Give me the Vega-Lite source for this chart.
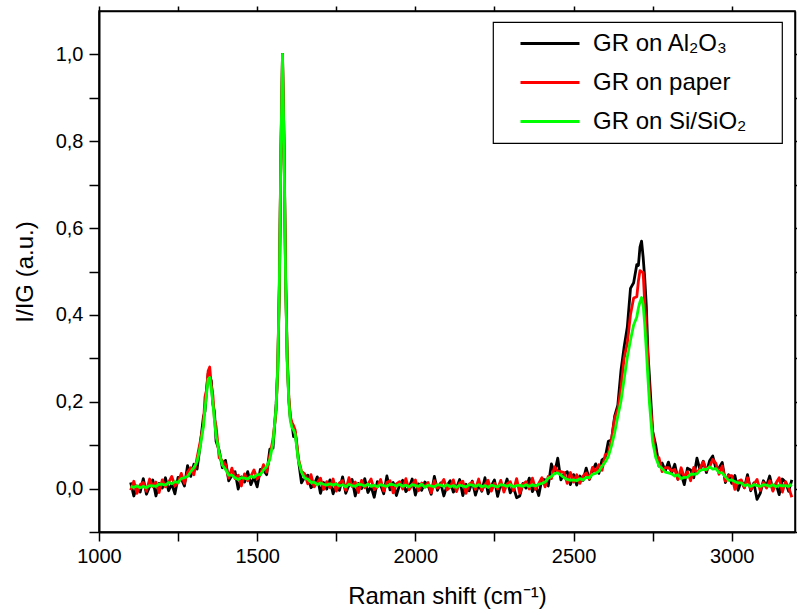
{
"$schema": "https://vega.github.io/schema/vega-lite/v6.json",
"width": 696, "height": 521,
"autosize": {"type": "none"},
"padding": {"left": 99, "top": 11, "right": 2, "bottom": 83},
"background": "white",
"config": {
 "view": {"stroke": "black", "strokeWidth": 1.5},
 "font": "Liberation Sans",
 "axis": {"grid": false, "domainColor": "black", "domainWidth": 2, "tickColor": "black", "tickWidth": 1.5, "labelColor": "black", "titleColor": "black", "labelFont": "Liberation Sans", "titleFont": "Liberation Sans", "labelFontSize": 20, "titleFontSize": 24, "titleFontWeight": "normal"},
 "legend": {"strokeWidth": 1.2}
},
"layer": [
{
"data": {"values": [
{"x":1100,"a":0.014,"p":-0.004,"s":0.005},
{"x":1110,"a":-0.017,"p":0.017,"s":0.003},
{"x":1120,"a":0.006,"p":-0.011,"s":0.006},
{"x":1130,"a":-0.008,"p":0.009,"s":0.002},
{"x":1140,"a":0.023,"p":0.014,"s":0.005},
{"x":1150,"a":-0.013,"p":-0.006,"s":0.002},
{"x":1160,"a":0.005,"p":0.022,"s":0.007},
{"x":1170,"a":0.02,"p":0.004,"s":0.006},
{"x":1180,"a":-0.017,"p":0.015,"s":0.005},
{"x":1190,"a":0.012,"p":-0.009,"s":0.01},
{"x":1200,"a":0.001,"p":0.02,"s":0.01},
{"x":1210,"a":0.025,"p":0.004,"s":0.008},
{"x":1220,"a":-0.005,"p":0.014,"s":0.014},
{"x":1230,"a":0.011,"p":0.028,"s":0.011},
{"x":1240,"a":-0.012,"p":0.006,"s":0.016},
{"x":1250,"a":0.026,"p":0.014,"s":0.014},
{"x":1260,"a":0.023,"p":0.035,"s":0.023},
{"x":1270,"a":0.006,"p":0.012,"s":0.025},
{"x":1280,"a":0.053,"p":0.038,"s":0.028},
{"x":1290,"a":0.028,"p":0.048,"s":0.039},
{"x":1300,"a":0.056,"p":0.032,"s":0.048},
{"x":1310,"a":0.045,"p":0.071,"s":0.062},
{"x":1320,"a":0.101,"p":0.108,"s":0.096},
{"x":1330,"a":0.165,"p":0.147,"s":0.143},
{"x":1335,"a":0.178,"p":0.211,"s":0.183},
{"x":1340,"a":0.228,"p":0.227,"s":0.218},
{"x":1345,"a":0.265,"p":0.271,"s":0.252},
{"x":1350,"a":0.256,"p":0.28,"s":0.256},
{"x":1355,"a":0.248,"p":0.237,"s":0.23},
{"x":1360,"a":0.194,"p":0.215,"s":0.196},
{"x":1365,"a":0.175,"p":0.16,"s":0.157},
{"x":1370,"a":0.109,"p":0.144,"s":0.121},
{"x":1380,"a":0.088,"p":0.071,"s":0.083},
{"x":1390,"a":0.048,"p":0.064,"s":0.054},
{"x":1400,"a":0.065,"p":0.055,"s":0.044},
{"x":1410,"a":0.018,"p":0.024,"s":0.031},
{"x":1420,"a":0.03,"p":0.047,"s":0.031},
{"x":1430,"a":0.039,"p":0.023,"s":0.025},
{"x":1440,"a":-0.001,"p":0.031,"s":0.021},
{"x":1450,"a":0.027,"p":0.006,"s":0.025},
{"x":1460,"a":0.015,"p":0.034,"s":0.024},
{"x":1470,"a":0.039,"p":0.018,"s":0.022},
{"x":1480,"a":0.009,"p":0.028,"s":0.028},
{"x":1490,"a":0.026,"p":0.043,"s":0.026},
{"x":1500,"a":0.004,"p":0.022,"s":0.032},
{"x":1510,"a":0.044,"p":0.032,"s":0.032},
{"x":1520,"a":0.043,"p":0.055,"s":0.043},
{"x":1530,"a":0.032,"p":0.038,"s":0.051},
{"x":1540,"a":0.091,"p":0.076,"s":0.067},
{"x":1550,"a":0.093,"p":0.114,"s":0.105},
{"x":1560,"a":0.195,"p":0.18,"s":0.189},
{"x":1565,"a":0.275,"p":0.285,"s":0.28},
{"x":1570,"a":0.46,"p":0.47,"s":0.465},
{"x":1575,"a":0.77,"p":0.78,"s":0.775},
{"x":1580,"a":1.0,"p":1.0,"s":1.0},
{"x":1585,"a":0.79,"p":0.785,"s":0.78},
{"x":1590,"a":0.48,"p":0.475,"s":0.47},
{"x":1595,"a":0.3,"p":0.295,"s":0.29},
{"x":1600,"a":0.205,"p":0.21,"s":0.2},
{"x":1605,"a":0.16,"p":0.165,"s":0.155},
{"x":1610,"a":0.148,"p":0.152,"s":0.14},
{"x":1615,"a":0.12,"p":0.145,"s":0.135},
{"x":1620,"a":0.13,"p":0.135,"s":0.125},
{"x":1625,"a":0.1,"p":0.105,"s":0.095},
{"x":1630,"a":0.068,"p":0.07,"s":0.065},
{"x":1640,"a":0.013,"p":0.04,"s":0.038},
{"x":1650,"a":0.026,"p":0.034,"s":0.024},
{"x":1660,"a":0.031,"p":0.011,"s":0.022},
{"x":1670,"a":0.002,"p":0.032,"s":0.014},
{"x":1680,"a":0.009,"p":0.004,"s":0.015},
{"x":1690,"a":0.027,"p":0.014,"s":0.009},
{"x":1700,"a":-0.011,"p":0.024,"s":0.013},
{"x":1710,"a":0.014,"p":-0.002,"s":0.01},
{"x":1720,"a":-0.001,"p":0.016,"s":0.008},
{"x":1730,"a":0.02,"p":0.002,"s":0.011},
{"x":1740,"a":-0.012,"p":0.022,"s":0.008},
{"x":1750,"a":0.011,"p":-0.006,"s":0.011},
{"x":1760,"a":-0.004,"p":0.013,"s":0.006},
{"x":1770,"a":0.027,"p":0.018,"s":0.009},
{"x":1780,"a":-0.011,"p":-0.004,"s":0.004},
{"x":1790,"a":0.008,"p":0.025,"s":0.01},
{"x":1800,"a":0.021,"p":0.005,"s":0.007},
{"x":1810,"a":-0.017,"p":0.015,"s":0.005},
{"x":1820,"a":0.012,"p":-0.009,"s":0.01},
{"x":1830,"a":0.0,"p":0.019,"s":0.009},
{"x":1840,"a":0.023,"p":0.002,"s":0.006},
{"x":1850,"a":-0.009,"p":0.01,"s":0.01},
{"x":1860,"a":0.005,"p":0.022,"s":0.005},
{"x":1870,"a":-0.02,"p":-0.002,"s":0.008},
{"x":1880,"a":0.016,"p":0.004,"s":0.004},
{"x":1890,"a":0.009,"p":0.021,"s":0.009},
{"x":1900,"a":-0.012,"p":-0.006,"s":0.007},
{"x":1910,"a":0.029,"p":0.014,"s":0.005},
{"x":1920,"a":-0.003,"p":0.018,"s":0.01},
{"x":1930,"a":0.014,"p":-0.01,"s":0.009},
{"x":1940,"a":-0.016,"p":0.011,"s":0.006},
{"x":1950,"a":0.008,"p":0.016,"s":0.01},
{"x":1960,"a":0.019,"p":-0.001,"s":0.005},
{"x":1970,"a":-0.007,"p":0.023,"s":0.008},
{"x":1980,"a":0.002,"p":-0.003,"s":0.004},
{"x":1990,"a":0.022,"p":0.009,"s":0.009},
{"x":2000,"a":-0.015,"p":0.02,"s":0.007},
{"x":2010,"a":0.011,"p":-0.005,"s":0.005},
{"x":2020,"a":-0.004,"p":0.013,"s":0.01},
{"x":2030,"a":0.015,"p":0.004,"s":0.003},
{"x":2040,"a":0.008,"p":0.014,"s":0.008},
{"x":2050,"a":-0.013,"p":-0.01,"s":0.006},
{"x":2060,"a":0.028,"p":0.018,"s":0.004},
{"x":2070,"a":-0.004,"p":0.001,"s":0.009},
{"x":2080,"a":0.013,"p":0.009,"s":0.008},
{"x":2090,"a":-0.017,"p":0.021,"s":0.005},
{"x":2100,"a":0.007,"p":-0.003,"s":0.009},
{"x":2110,"a":0.018,"p":0.003,"s":0.004},
{"x":2120,"a":-0.008,"p":0.02,"s":0.007},
{"x":2130,"a":0.001,"p":-0.007,"s":0.003},
{"x":2140,"a":0.021,"p":0.013,"s":0.008},
{"x":2150,"a":-0.016,"p":0.017,"s":0.006},
{"x":2160,"a":0.01,"p":-0.011,"s":0.004},
{"x":2170,"a":-0.005,"p":0.01,"s":0.009},
{"x":2180,"a":0.017,"p":0.015,"s":0.008},
{"x":2190,"a":-0.015,"p":-0.002,"s":0.005},
{"x":2200,"a":0.009,"p":0.022,"s":0.009},
{"x":2210,"a":-0.006,"p":-0.004,"s":0.004},
{"x":2220,"a":0.025,"p":0.008,"s":0.007},
{"x":2230,"a":-0.012,"p":0.019,"s":0.003},
{"x":2240,"a":0.006,"p":-0.006,"s":0.008},
{"x":2250,"a":0.02,"p":0.012,"s":0.006},
{"x":2260,"a":-0.018,"p":-0.001,"s":0.004},
{"x":2270,"a":0.011,"p":0.019,"s":0.009},
{"x":2280,"a":-0.001,"p":-0.008,"s":0.008},
{"x":2290,"a":0.022,"p":0.011,"s":0.005},
{"x":2300,"a":-0.01,"p":0.016,"s":0.009},
{"x":2310,"a":0.004,"p":-0.005,"s":0.004},
{"x":2320,"a":-0.021,"p":0.023,"s":0.007},
{"x":2330,"a":-0.017,"p":-0.011,"s":0.008},
{"x":2340,"a":0.012,"p":0.01,"s":0.005},
{"x":2350,"a":0.001,"p":0.016,"s":0.009},
{"x":2360,"a":0.024,"p":-0.001,"s":0.005},
{"x":2370,"a":-0.007,"p":0.024,"s":0.009},
{"x":2380,"a":0.007,"p":-0.002,"s":0.006},
{"x":2390,"a":-0.016,"p":0.012,"s":0.01},
{"x":2400,"a":0.022,"p":0.025,"s":0.012},
{"x":2410,"a":0.02,"p":0.004,"s":0.015},
{"x":2420,"a":0.006,"p":0.028,"s":0.024},
{"x":2430,"a":0.057,"p":0.023,"s":0.028},
{"x":2440,"a":0.035,"p":0.05,"s":0.035},
{"x":2450,"a":0.07,"p":0.04,"s":0.036},
{"x":2460,"a":0.02,"p":0.039,"s":0.031},
{"x":2470,"a":0.034,"p":0.037,"s":0.025},
{"x":2480,"a":0.039,"p":0.012,"s":0.021},
{"x":2490,"a":0.009,"p":0.037,"s":0.019},
{"x":2500,"a":0.032,"p":0.015,"s":0.02},
{"x":2510,"a":0.008,"p":0.032,"s":0.018},
{"x":2520,"a":0.029,"p":0.012,"s":0.023},
{"x":2530,"a":0.019,"p":0.029,"s":0.02},
{"x":2540,"a":0.047,"p":0.036,"s":0.026},
{"x":2550,"a":0.021,"p":0.022,"s":0.025},
{"x":2560,"a":0.04,"p":0.049,"s":0.033},
{"x":2570,"a":0.057,"p":0.039,"s":0.035},
{"x":2580,"a":0.035,"p":0.055,"s":0.04},
{"x":2590,"a":0.066,"p":0.042,"s":0.052},
{"x":2600,"a":0.071,"p":0.078,"s":0.061},
{"x":2610,"a":0.109,"p":0.081,"s":0.074},
{"x":2620,"a":0.112,"p":0.113,"s":0.099},
{"x":2630,"a":0.167,"p":0.162,"s":0.129},
{"x":2640,"a":0.192,"p":0.183,"s":0.167},
{"x":2650,"a":0.272,"p":0.233,"s":0.202},
{"x":2660,"a":0.327,"p":0.301,"s":0.253},
{"x":2670,"a":0.372,"p":0.335,"s":0.303},
{"x":2680,"a":0.461,"p":0.401,"s":0.342},
{"x":2690,"a":0.474,"p":0.439,"s":0.377},
{"x":2700,"a":0.516,"p":0.442,"s":0.395},
{"x":2705,"a":0.514,"p":0.478,"s":0.416},
{"x":2710,"a":0.556,"p":0.502,"s":0.43},
{"x":2715,"a":0.57,"p":0.499,"s":0.44},
{"x":2720,"a":0.533,"p":0.498,"s":0.424},
{"x":2725,"a":0.484,"p":0.427,"s":0.378},
{"x":2730,"a":0.421,"p":0.367,"s":0.319},
{"x":2735,"a":0.314,"p":0.306,"s":0.256},
{"x":2740,"a":0.256,"p":0.216,"s":0.197},
{"x":2750,"a":0.132,"p":0.13,"s":0.108},
{"x":2760,"a":0.099,"p":0.075,"s":0.071},
{"x":2770,"a":0.052,"p":0.071,"s":0.052},
{"x":2780,"a":0.059,"p":0.039,"s":0.046},
{"x":2790,"a":0.041,"p":0.048,"s":0.038},
{"x":2800,"a":0.061,"p":0.048,"s":0.036},
{"x":2810,"a":0.036,"p":0.041,"s":0.034},
{"x":2820,"a":0.056,"p":0.044,"s":0.029},
{"x":2830,"a":0.022,"p":0.021,"s":0.032},
{"x":2840,"a":0.034,"p":0.048,"s":0.023},
{"x":2850,"a":0.009,"p":0.026,"s":0.026},
{"x":2860,"a":0.047,"p":0.039,"s":0.026},
{"x":2870,"a":0.043,"p":0.018,"s":0.033},
{"x":2880,"a":0.025,"p":0.049,"s":0.033},
{"x":2890,"a":0.07,"p":0.035,"s":0.034},
{"x":2900,"a":0.042,"p":0.047,"s":0.042},
{"x":2910,"a":0.063,"p":0.062,"s":0.044},
{"x":2920,"a":0.037,"p":0.042,"s":0.044},
{"x":2930,"a":0.064,"p":0.05,"s":0.05},
{"x":2940,"a":0.075,"p":0.067,"s":0.045},
{"x":2950,"a":0.046,"p":0.058,"s":0.046},
{"x":2960,"a":0.048,"p":0.033,"s":0.037},
{"x":2970,"a":0.06,"p":0.052,"s":0.036},
{"x":2980,"a":0.014,"p":0.017,"s":0.027},
{"x":2990,"a":0.032,"p":0.03,"s":0.019},
{"x":3000,"a":0.012,"p":0.03,"s":0.02},
{"x":3010,"a":0.03,"p":-0.002,"s":0.016},
{"x":3020,"a":-0.004,"p":0.017,"s":0.013},
{"x":3030,"a":0.018,"p":0.02,"s":0.013},
{"x":3040,"a":0.002,"p":0.002,"s":0.007},
{"x":3050,"a":0.032,"p":0.025,"s":0.009},
{"x":3060,"a":-0.005,"p":-0.002,"s":0.005},
{"x":3070,"a":0.013,"p":0.01,"s":0.009},
{"x":3080,"a":-0.025,"p":0.021,"s":0.007},
{"x":3090,"a":-0.011,"p":-0.004,"s":0.005},
{"x":3100,"a":0.018,"p":0.014,"s":0.009},
{"x":3110,"a":0.006,"p":0.001,"s":0.008},
{"x":3120,"a":0.029,"p":0.018,"s":0.005},
{"x":3130,"a":-0.003,"p":-0.006,"s":0.009},
{"x":3140,"a":0.011,"p":0.013,"s":0.004},
{"x":3150,"a":-0.014,"p":0.025,"s":0.008},
{"x":3160,"a":0.022,"p":-0.008,"s":0.006},
{"x":3170,"a":0.015,"p":0.016,"s":0.007},
{"x":3180,"a":-0.006,"p":0.002,"s":0.005},
{"x":3190,"a":0.02,"p":-0.02,"s":0.01}
]},
"transform": [{"fold": ["a", "p", "s"], "as": ["series", "value"]}],
"mark": {"type": "line", "strokeJoin": "round"},
"encoding": {
 "x": {"field": "x", "type": "quantitative",
  "scale": {"domain": [1000, 3200], "nice": false, "zero": false},
  "axis": {"orient": "bottom", "values": [1000,1250,1500,1750,2000,2250,2500,2750,3000],
   "format": "d", "labelExpr": "datum.value % 500 === 0 ? datum.label : ''",
   "tickSize": 9,
   "encode": {"ticks": {"update": {"y2": {"signal": "datum.value % 500 === 0 ? 9 : 5"}}}},
   "labelPadding": 5, "labelOverlap": false, "labelFlush": false,
   "title": "Raman shift (cm⁻¹)", "titlePadding": 18}},
 "y": {"field": "value", "type": "quantitative",
  "scale": {"domain": [-0.1, 1.1], "nice": false, "zero": false},
  "axis": {"orient": "left", "values": [-0.1,0,0.1,0.2,0.3,0.4,0.5,0.6,0.7,0.8,0.9,1.0],
   "labelExpr": "round(datum.value*10) % 2 === 0 ? replace(format(datum.value, '.1f'), '.', ',') : ''",
   "tickSize": 10,
   "encode": {"ticks": {"update": {"x2": {"signal": "round(datum.value*10) % 2 === 0 ? -10 : -5"}}}},
   "labelPadding": 6, "labelOverlap": false, "labelFlush": false,
   "title": "I/IG (a.u.)", "titlePadding": 18}},
 "color": {"field": "series", "type": "nominal",
  "scale": {"domain": ["a", "p", "s"], "range": ["#000000", "#ff0000", "#00ff00"]},
  "legend": {"orient": "none", "legendX": 394, "legendY": 11, "title": null,
   "labelExpr": "datum.value == 'a' ? 'GR on Al₂O₃\u00a0\u00a0\u00a0\u00a0\u00a0\u200b' : datum.value == 'p' ? 'GR on paper\u00a0\u00a0\u00a0\u00a0\u00a0\u200b' : 'GR on Si/SiO₂\u00a0\u00a0\u00a0\u00a0\u00a0\u200b'",
   "symbolType": "stroke", "symbolSize": 3481, "symbolStrokeWidth": 3,
   "labelFontSize": 24, "labelFont": "Liberation Sans", "labelColor": "black", "labelLimit": 500,
   "strokeColor": "black", "fillColor": "white", "padding": 2, "clipHeight": 39, "rowPadding": 0,
   "symbolOffset": 24, "labelOffset": 12}},
 "strokeWidth": {"field": "series", "type": "nominal",
  "scale": {"domain": ["a", "p", "s"], "range": [2.8, 2.8, 3.8]}, "legend": null}
}
},
{
"data": {"values": [{"x": 1000, "y": 0}]},
"mark": {"type": "point", "opacity": 0},
"encoding": {
 "x": {"field": "x", "type": "quantitative",
  "axis": {"orient": "top", "values": [1000,1250,1500,1750,2000,2250,2500,2750,3000], "labels": false, "title": null, "domainWidth": 1.5, "tickSize": 5,
   "encode": {"ticks": {"update": {"y2": {"signal": "datum.value % 500 === 0 ? 9 : 5"}}}}}},
 "y": {"field": "y", "type": "quantitative",
  "axis": {"orient": "right", "values": [-0.1,0,0.1,0.2,0.3,0.4,0.5,0.6,0.7,0.8,0.9,1.0], "labels": false, "title": null, "domainWidth": 1.5, "tickSize": 5,
   "encode": {"ticks": {"update": {"x2": {"signal": "round(datum.value*10) % 2 === 0 ? -10 : -5"}}}}}}
}
}
],
"resolve": {"axis": {"x": "independent", "y": "independent"}}
}
